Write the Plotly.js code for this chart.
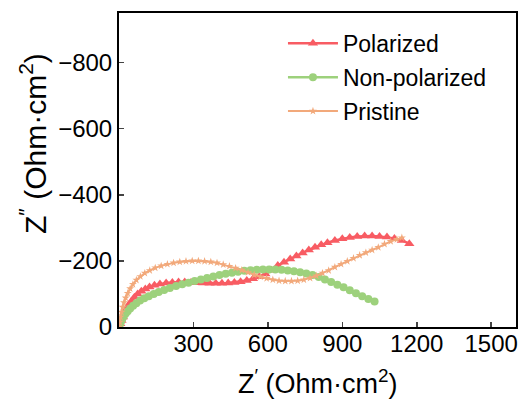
<!DOCTYPE html>
<html><head><meta charset="utf-8">
<script src="https://cdn.plot.ly/plotly-3.0.1.min.js"></script>
<style>html,body{margin:0;padding:0;background:#fff}#chart{width:524px;height:403px}</style>
</head><body><div id="chart"></div>
<script>
const seriesNames = ["Polarized", "Non-polarized", "Pristine"];
const polX = [0,5,10,16,22,30,40,50,62,75,90,106,123,143,165,190,215,240,265,290,315,340,365,390,415,440,465,490,515,540,565,590,615,640,665,690,715,740,765,790,815,840,870,900,930,960,990,1020,1050,1080,1110,1140,1170];
const polY = [0,-10,-20,-30,-42,-55,-68,-78,-90,-100,-108,-115,-121,-126,-130,-133,-135,-136,-136,-135,-134,-133,-132,-132,-132,-133,-135,-137,-141,-146,-152,-160,-172,-186,-196,-206,-215,-224,-233,-241,-249,-255,-262,-267,-271,-274,-275,-275,-274,-272,-268,-262,-252];
const nonX = [0,4,8,13,19,26,35,45,57,70,85,102,120,140,160,182,205,230,255,280,305,330,355,380,405,430,455,480,505,530,555,580,605,630,655,680,705,730,755,780,805,830,855,880,905,930,955,980,1005,1030];
const nonY = [0,-8,-16,-24,-32,-40,-48,-56,-64,-72,-80,-87,-93,-100,-106,-112,-118,-124,-129,-134,-139,-144,-148,-153,-157,-161,-164,-167,-170,-172,-173,-174,-174,-174,-173,-171,-169,-166,-162,-157,-151,-144,-136,-128,-120,-111,-102,-93,-85,-77];
const priX = [0,3,6,10,15,20,27,35,45,56,70,86,104,124,146,170,195,220,245,270,295,320,345,370,395,420,445,470,495,520,545,570,595,620,645,670,695,720,745,770,795,820,845,870,895,920,945,970,995,1020,1045,1070,1095,1120,1140];
const priY = [0,-15,-30,-45,-60,-74,-88,-102,-116,-129,-142,-153,-163,-171,-179,-185,-190,-194,-197,-199,-200,-200,-199,-197,-194,-189,-184,-178,-172,-165,-158,-152,-147,-143,-140,-139,-139,-140,-143,-148,-155,-163,-171,-181,-190,-199,-208,-217,-225,-233,-241,-251,-259,-265,-270];
const xTicks = [300,600,900,1200,1500];
const yTicks = [0,-200,-400,-600,-800];
const xTitle = "Z<sup>′</sup> (Ohm·cm<sup>2</sup>)";
const yTitle = "Z<sup>″</sup> (Ohm·cm<sup>2</sup>)";

const colors = ["#F85C63", "#9DD17C", "#F2A97B"];
const font = {family: "Liberation Sans, Arial, sans-serif", color: "#000"};

const traces = [
  {x: polX, y: polY, name: seriesNames[0], legendgroup: "a", mode: "lines+markers",
   line: {color: colors[0], width: 2.5}, marker: {symbol: "triangle-up", size: 9, color: colors[0]}},
  {x: nonX, y: nonY, name: seriesNames[1], legendgroup: "b", mode: "lines+markers",
   line: {color: colors[1], width: 2.5}, marker: {symbol: "circle", size: 8, color: colors[1]}},
  {x: priX, y: priY, name: seriesNames[2], legendgroup: "c", mode: "lines+markers",
   line: {color: colors[2], width: 2}, marker: {symbol: "star", size: 6, color: colors[2]}}
];

const layout = {
  width: 524, height: 403,
  margin: {l: 119, r: 8, t: 13, b: 76},
  paper_bgcolor: "#fff", plot_bgcolor: "#fff",
  showlegend: true,
  legend: {x: 0.413, y: 0.972, xanchor: "left", yanchor: "top", traceorder: "grouped",
           font: Object.assign({size: 23}, font), bgcolor: "rgba(0,0,0,0)", tracegroupgap: 1,
           itemwidth: 50},
  xaxis: {range: [0, 1600], tickvals: xTicks, ticks: "inside", ticklen: 5, tickwidth: 1.5,
          showline: true, linewidth: 2, linecolor: "#000", mirror: true, showgrid: false, zeroline: false,
          tickfont: Object.assign({size: 24}, font), ticklabelstandoff: -6},
  yaxis: {range: [0, -950], tickvals: yTicks, ticks: "inside", ticklen: 5, tickwidth: 1.5,
          showline: true, linewidth: 2, linecolor: "#000", mirror: true, showgrid: false, zeroline: false,
          tickfont: Object.assign({size: 24}, font)},
  annotations: [
    {text: xTitle, xref: "paper", yref: "paper", x: 0.501, y: -0.175,
     xanchor: "center", yanchor: "middle", showarrow: false,
     font: Object.assign({size: 27}, font)},
    {text: yTitle, xref: "paper", yref: "paper", x: -0.215, y: 0.585,
     xanchor: "center", yanchor: "middle", textangle: -90, showarrow: false,
     font: Object.assign({size: 30}, font)}]
};
Plotly.newPlot("chart", traces, layout, {displayModeBar: false, staticPlot: true});
</script></body></html>
